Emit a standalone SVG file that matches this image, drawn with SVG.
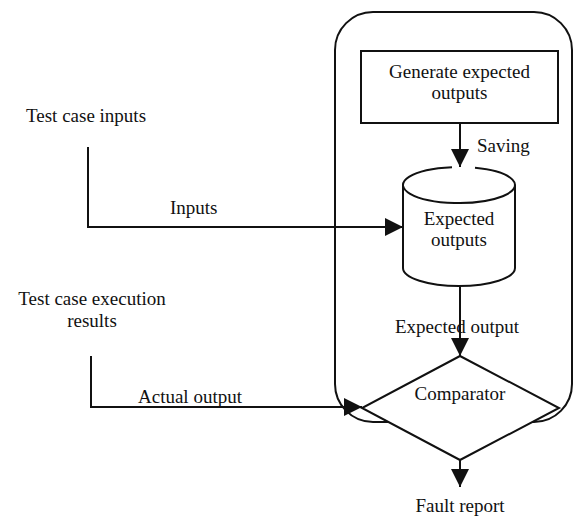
<svg xmlns="http://www.w3.org/2000/svg" width="574" height="516" viewBox="0 0 574 516">
<style>
  .ln{fill:none;stroke:#111;stroke-width:2}
  .sh{fill:#fff;stroke:#111;stroke-width:2}
  .t{font-family:'Liberation Serif','Times New Roman',serif;font-size:19px;fill:#111}
  .m{text-anchor:middle}
</style>
<defs>
  <marker id="arr" markerUnits="userSpaceOnUse" markerWidth="19" markerHeight="19" refX="18" refY="9" orient="auto">
    <path d="M0,0 L18,9 L0,18 z" fill="#111"/>
  </marker>
</defs>
<rect width="574" height="516" fill="#fff"/>
<g id="container">
  <rect class="ln" x="335" y="12" width="237" height="410" rx="38" ry="38"/>
</g>
<g id="generate">
  <rect class="sh" x="361" y="51" width="197" height="72"/>
  <text class="t m" font-family="Liberation Serif, serif" x="459.5" y="78">Generate expected</text>
  <text class="t m" font-family="Liberation Serif, serif" x="459.5" y="99">outputs</text>
</g>
<g id="expected-outputs">
  <path class="sh" d="M403,185 L403,268 A56,18 0 0 0 515,268 L515,185"/>
  <path class="ln" d="M452,167.14 A56,18 0 1 0 475,167.75"/>
  <text class="t m" font-family="Liberation Serif, serif" x="459" y="225">Expected</text>
  <text class="t m" font-family="Liberation Serif, serif" x="459" y="246">outputs</text>
</g>
<g id="comparator">
  <polygon class="sh" points="460,356 559,408 460,460 362,408"/>
  <text class="t m" font-family="Liberation Serif, serif" x="460" y="400">Comparator</text>
</g>
<g id="test-case-inputs">
  <text class="t" font-family="Liberation Serif, serif" x="26" y="122">Test case inputs</text>
</g>
<g id="test-case-execution-results">
  <text class="t m" font-family="Liberation Serif, serif" x="92" y="305">Test case execution</text>
  <text class="t m" font-family="Liberation Serif, serif" x="92" y="327">results</text>
</g>
<g id="fault-report">
  <text class="t m" font-family="Liberation Serif, serif" x="460" y="512">Fault report</text>
</g>
<g id="connectors">
  <line class="ln" x1="460" y1="123" x2="460" y2="167" marker-end="url(#arr)"/>
  <text class="t" font-family="Liberation Serif, serif" x="477" y="152">Saving</text>
  <polyline class="ln" points="88,147 88,227 403,227" marker-end="url(#arr)"/>
  <text class="t" font-family="Liberation Serif, serif" x="170" y="214">Inputs</text>
  <line class="ln" x1="460" y1="286" x2="460" y2="356" marker-end="url(#arr)"/>
  <text class="t m" font-family="Liberation Serif, serif" x="457" y="333">Expected output</text>
  <polyline class="ln" points="91,356 91,407 362,407" marker-end="url(#arr)"/>
  <text class="t" font-family="Liberation Serif, serif" x="138" y="403">Actual output</text>
  <line class="ln" x1="460" y1="460" x2="460" y2="487" marker-end="url(#arr)"/>
</g>
</svg>
